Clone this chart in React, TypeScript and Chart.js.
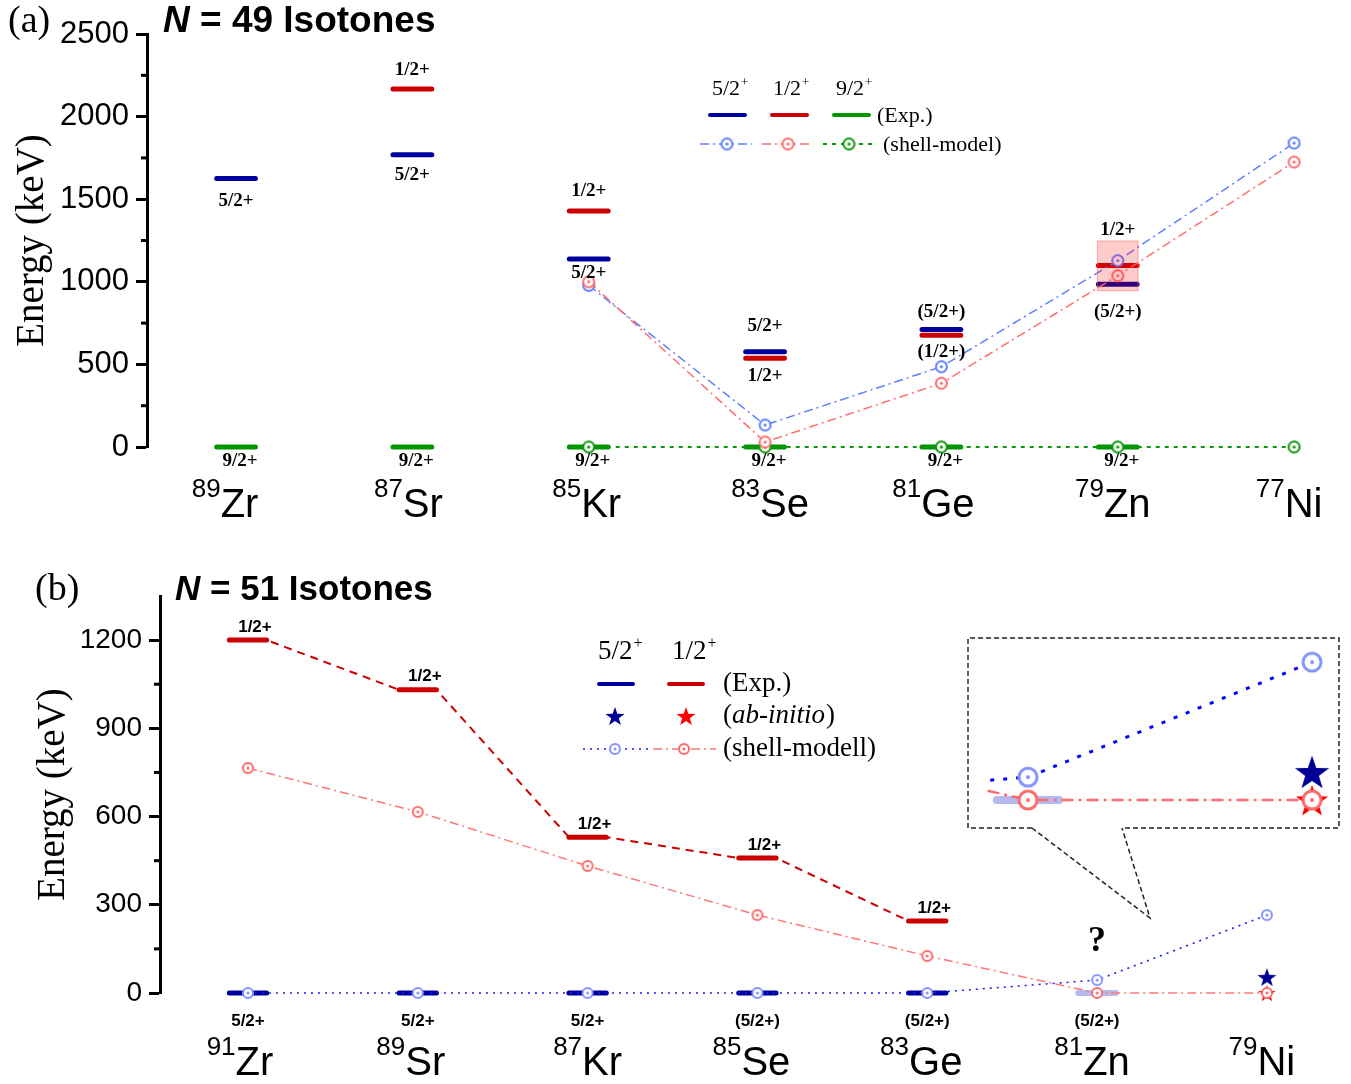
import { useEffect, useRef } from 'react';
import { Chart, registerables } from 'chart.js';

Chart.register(...registerables);

const SANS = '"Liberation Sans", Arial, Helvetica, sans-serif';
const SERIF = '"Liberation Serif", "Times New Roman", Times, serif';

// ---------- (a) N = 49 isotones ----------
const n49Mass = ['89', '87', '85', '83', '81', '79', '77'];
const n49Symbol = ['Zr', 'Sr', 'Kr', 'Se', 'Ge', 'Zn', 'Ni'];
const n49Exp52 = [1626, 1769, 1138, 577, 712, 985, null];
const n49Exp12 = [null, 2167, 1429, 537, 676, 1098, null];
const n49Exp92 = [0, 0, 0, 0, 0, 0, null];
const n49Shell52 = [null, null, 978, 133, 486, 1128, 1840];
const n49Shell12 = [null, null, 1000, 30, 386, 1037, 1725];
const n49Shell92 = [null, null, 0, 0, 0, 0, 0];
const n49Label52 = ['5/2+', '5/2+', '5/2+', '5/2+', '(5/2+)', '(5/2+)', null];
const n49Label12 = [null, '1/2+', '1/2+', '1/2+', '(1/2+)', '1/2+', null];
const n49Label92 = ['9/2+', '9/2+', '9/2+', '9/2+', '9/2+', '9/2+', null];
const n49Ticks = { min: 0, max: 2500, step: 500 };
const n49MinorTicks = [250, 750, 1250, 1750, 2250];
// highlighted energy window around the 79Zn levels
const n49WindowIsotope = 5;
const n49WindowRange = [946, 1247];

// ---------- (b) N = 51 isotones ----------
const n51Mass = ['91', '89', '87', '85', '83', '81', '79'];
const n51Symbol = ['Zr', 'Sr', 'Kr', 'Se', 'Ge', 'Zn', 'Ni'];
const n51Exp12 = [1200, 1031, 530, 459, 245, null, null];
const n51Exp52 = [0, 0, 0, 0, 0, null, null];
const n51Exp52Tentative = [null, null, null, null, null, 0, null];
const n51Shell52 = [0, 0, 0, 0, 0, 44, 265];
const n51Shell12 = [765, 616, 432, 265, 126, 0, 0];
const n51AbInitio52 = [null, null, null, null, null, null, 54];
const n51AbInitio12 = [null, null, null, null, null, null, 0];
const n51Label12 = ['1/2+', '1/2+', '1/2+', '1/2+', '1/2+', null, null];
const n51GroundLabel = ['5/2+', '5/2+', '5/2+', '(5/2+)', '(5/2+)', '(5/2+)', null];
const n51Ticks = { min: 0, max: 1350, step: 300 };
const n51MinorTicks = [150, 450, 750, 1050];
const n51UnknownAt = { index: 5, energy: 173 };

// ---------- styling ----------
const BLUE = '#00009c';
const RED = '#cc0000';
const GREEN = '#009600';
const LEVEL_HALF = 0.11;
const DASH_DOT = [9, 4, 2, 4];

const n49LabelDy52 = [23, 20, 14, -26, -17, 28, 0];
const n49LabelDy12 = [0, -19, -20, 18, 17, -36, 0];
const n49NameDx = [-11, -4, -2, 5, -8, -5, -5];
const n51NameDx = [-8, -7, 0, -6, -6, -5, -5];

function levelPoints(values: (number | null)[]) {
  const pts: any[] = [];
  values.forEach((v, i) => {
    if (v === null) return;
    pts.push({ x: i - LEVEL_HALF, y: v }, { x: i + LEVEL_HALF, y: v }, { x: i + LEVEL_HALF, y: null });
  });
  return pts;
}

function trendPoints(values: (number | null)[]) {
  const pts: any[] = [];
  values.forEach((v, i) => {
    if (v === null) return;
    pts.push({ x: i - LEVEL_HALF, y: v }, { x: i + LEVEL_HALF, y: v });
  });
  return pts;
}

function seriesPoints(values: (number | null)[]) {
  return values.flatMap((v, i) => (v === null ? [] : [{ x: i, y: v }]));
}

function makeRing(color: string, r: number, lw: number, dot: number) {
  const size = Math.ceil(2 * (r + lw)) + 2;
  const c = document.createElement('canvas');
  c.width = size;
  c.height = size;
  const g = c.getContext('2d')!;
  g.fillStyle = '#fff';
  g.beginPath();
  g.arc(size / 2, size / 2, r, 0, Math.PI * 2);
  g.fill();
  g.strokeStyle = color;
  g.lineWidth = lw;
  g.stroke();
  g.fillStyle = color;
  g.beginPath();
  g.arc(size / 2, size / 2, dot, 0, Math.PI * 2);
  g.fill();
  return c;
}

function makeStar(color: string, R: number) {
  const size = Math.ceil(2 * R) + 2;
  const c = document.createElement('canvas');
  c.width = size;
  c.height = size;
  const g = c.getContext('2d')!;
  const cx = size / 2;
  const cy = size / 2 + R * 0.1;
  const r = R * 0.4;
  g.fillStyle = color;
  g.beginPath();
  for (let k = 0; k < 10; k++) {
    const a = -Math.PI / 2 + (k * Math.PI) / 5;
    const rr = k % 2 === 0 ? R : r;
    const px = cx + rr * Math.cos(a);
    const py = cy + rr * Math.sin(a);
    if (k === 0) g.moveTo(px, py);
    else g.lineTo(px, py);
  }
  g.closePath();
  g.fill();
  return c;
}

function levelSet(values: (number | null)[], color: string, width: number) {
  return {
    data: levelPoints(values),
    showLine: true,
    borderColor: color,
    borderWidth: width,
    borderCapStyle: 'round',
    pointRadius: 0,
    pointHoverRadius: 0,
    clip: false,
  };
}

function shellSet(values: (number | null)[], color: string, marker: any, width: number, dash: number[], radius: number, clip: any = false) {
  return {
    data: seriesPoints(values),
    showLine: true,
    borderColor: color,
    borderWidth: width,
    borderDash: dash,
    pointStyle: marker,
    pointRadius: radius,
    pointHoverRadius: radius,
    clip,
  };
}

function starSet(values: (number | null)[], marker: any, radius: number, clip: any = false) {
  return {
    data: seriesPoints(values),
    showLine: false,
    pointStyle: marker,
    pointRadius: radius,
    pointHoverRadius: radius,
    clip,
  };
}

function segment(ctx: CanvasRenderingContext2D, x0: number, x1: number, y: number, color: string, lw: number, dash: number[], cap: CanvasLineCap = 'butt') {
  ctx.save();
  ctx.strokeStyle = color;
  ctx.lineWidth = lw;
  ctx.setLineDash(dash);
  ctx.lineCap = cap;
  ctx.beginPath();
  ctx.moveTo(x0, y);
  ctx.lineTo(x1, y);
  ctx.stroke();
  ctx.restore();
}

function drawSpin(ctx: CanvasRenderingContext2D, text: string, x: number, baseline: number, size: number) {
  ctx.textAlign = 'left';
  ctx.textBaseline = 'alphabetic';
  ctx.font = `${size}px ${SERIF}`;
  ctx.fillText(text, x, baseline);
  const w = ctx.measureText(text).width;
  ctx.font = `${Math.round(size * 0.6)}px ${SERIF}`;
  ctx.fillText('+', x + w + 1, baseline - size * 0.42);
}

function drawPanelTitle(ctx: CanvasRenderingContext2D, tag: string, tagX: number, n: string, x: number, y: number, tagSize: number, size: number) {
  ctx.textAlign = 'left';
  ctx.textBaseline = 'middle';
  ctx.fillStyle = '#000';
  ctx.font = `${tagSize}px ${SERIF}`;
  ctx.fillText(tag, tagX, y);
  ctx.font = `italic bold ${size}px ${SANS}`;
  ctx.fillText('N', x, y);
  const w = ctx.measureText('N').width;
  ctx.font = `bold ${size}px ${SANS}`;
  ctx.fillText(` = ${n} Isotones`, x + w, y);
}

function drawIsotope(ctx: CanvasRenderingContext2D, cx: number, baseline: number, mass: string, symbol: string) {
  const symSize = 40;
  const supSize = 26;
  ctx.textBaseline = 'alphabetic';
  ctx.textAlign = 'left';
  ctx.font = `${supSize}px ${SANS}`;
  const wSup = ctx.measureText(mass).width;
  ctx.font = `${symSize}px ${SANS}`;
  const wSym = ctx.measureText(symbol).width;
  const x0 = cx - (wSup + wSym) / 2;
  ctx.font = `${supSize}px ${SANS}`;
  ctx.fillText(mass, x0, baseline - 20);
  ctx.font = `${symSize}px ${SANS}`;
  ctx.fillText(symbol, x0 + wSup, baseline);
}

function drawMinorTicks(ctx: CanvasRenderingContext2D, scale: any, left: number, values: number[]) {
  ctx.save();
  ctx.strokeStyle = '#000';
  ctx.lineWidth = 3;
  values.forEach((v) => {
    const py = scale.getPixelForValue(v);
    ctx.beginPath();
    ctx.moveTo(left - 6, py);
    ctx.lineTo(left, py);
    ctx.stroke();
  });
  ctx.restore();
}

function yAxis(ticks: { min: number; max: number; step: number }, width: number, tickSize: number, titlePad: number) {
  return {
    min: ticks.min,
    max: ticks.max,
    afterFit: (s: any) => {
      s.width = width;
    },
    border: { display: true, color: '#000', width: 3 },
    grid: { drawOnChartArea: false, drawTicks: true, tickLength: 11, tickWidth: 3, tickColor: '#000' },
    ticks: {
      stepSize: ticks.step,
      includeBounds: false,
      color: '#000',
      padding: 7,
      font: { family: SANS, size: tickSize },
      callback: (v: any) => String(v),
    },
    title: {
      display: true,
      text: 'Energy (keV)',
      color: '#000',
      font: { family: SERIF, size: 39 },
      padding: { top: titlePad, bottom: 0 },
    },
  };
}

function baseOptions(padding: any) {
  return {
    animation: false,
    responsive: false,
    maintainAspectRatio: false,
    events: [],
    layout: { padding, autoPadding: false },
    plugins: { legend: { display: false }, tooltip: { enabled: false } },
  };
}

function buildTop(canvas: HTMLCanvasElement) {
  const ringB = makeRing('#5f7fff', 5.5, 2, 1.6);
  const ringR = makeRing('#ff6d6d', 5.5, 2, 1.6);
  const ringG = makeRing('#0a960a', 5.5, 2, 1.6);

  const decor = {
    id: 'n49Decor',
    afterDatasetsDraw(chart: any) {
      const { ctx, scales } = chart;
      const { x, y } = scales;
      const x0 = x.getPixelForValue(n49WindowIsotope - LEVEL_HALF - 0.005);
      const x1 = x.getPixelForValue(n49WindowIsotope + LEVEL_HALF + 0.005);
      const y0 = y.getPixelForValue(n49WindowRange[1]);
      const y1 = y.getPixelForValue(n49WindowRange[0]);
      ctx.save();
      ctx.fillStyle = 'rgba(255,0,0,0.2)';
      ctx.fillRect(x0, y0, x1 - x0, y1 - y0);
      ctx.strokeStyle = 'rgba(255,90,90,0.5)';
      ctx.lineWidth = 1;
      ctx.strokeRect(x0, y0, x1 - x0, y1 - y0);
      ctx.restore();
    },
    afterDraw(chart: any) {
      const { ctx, chartArea, scales } = chart;
      const { x, y } = scales;
      ctx.save();
      ctx.fillStyle = '#000';
      drawMinorTicks(ctx, y, chartArea.left, n49MinorTicks);
      drawPanelTitle(ctx, '(a)', 8, '49', 163, 22, 38, 37);

      // level labels
      ctx.font = `bold 19px ${SERIF}`;
      ctx.textAlign = 'center';
      ctx.textBaseline = 'middle';
      ctx.fillStyle = '#000';
      n49Label52.forEach((t, i) => {
        const v = n49Exp52[i];
        if (!t || v === null) return;
        ctx.fillText(t, x.getPixelForValue(i), y.getPixelForValue(v) + n49LabelDy52[i]);
      });
      n49Label12.forEach((t, i) => {
        const v = n49Exp12[i];
        if (!t || v === null) return;
        ctx.fillText(t, x.getPixelForValue(i), y.getPixelForValue(v) + n49LabelDy12[i]);
      });
      n49Label92.forEach((t, i) => {
        const v = n49Exp92[i];
        if (!t || v === null) return;
        ctx.fillText(t, x.getPixelForValue(i) + 4, y.getPixelForValue(v) + 14);
      });

      // isotope names
      ctx.fillStyle = '#000';
      n49Symbol.forEach((s, i) => drawIsotope(ctx, x.getPixelForValue(i) + n49NameDx[i], 517, n49Mass[i], s));

      // legend
      drawSpin(ctx, '5/2', 712, 95, 22);
      drawSpin(ctx, '1/2', 773, 95, 22);
      drawSpin(ctx, '9/2', 836, 95, 22);
      segment(ctx, 710, 745, 115, BLUE, 4, [], 'round');
      segment(ctx, 772, 807, 115, RED, 4, [], 'round');
      segment(ctx, 834, 869, 115, GREEN, 4, [], 'round');
      segment(ctx, 700, 752, 144, '#5f7fff', 1.5, DASH_DOT);
      segment(ctx, 762, 812, 144, '#ff6d6d', 1.5, DASH_DOT);
      segment(ctx, 823, 872, 144, '#0a960a', 2, [4, 5]);
      ctx.drawImage(ringB, 727 - ringB.width / 2, 144 - ringB.height / 2);
      ctx.drawImage(ringR, 788 - ringR.width / 2, 144 - ringR.height / 2);
      ctx.drawImage(ringG, 849 - ringG.width / 2, 144 - ringG.height / 2);
      ctx.fillStyle = '#000';
      ctx.font = `22px ${SERIF}`;
      ctx.textAlign = 'left';
      ctx.textBaseline = 'middle';
      ctx.fillText('(Exp.)', 877, 116);
      ctx.fillText('(shell-model)', 883, 145);
      ctx.restore();
    },
  };

  return new Chart(canvas, {
    type: 'scatter',
    data: {
      datasets: [
        shellSet(n49Shell12, '#ff6d6d', ringR, 1.5, DASH_DOT, 7),
        shellSet(n49Shell52, '#5f7fff', ringB, 1.5, DASH_DOT, 7),
        shellSet(n49Shell92, '#0a960a', ringG, 2, [4, 5], 7),
        levelSet(n49Exp12, RED, 5),
        levelSet(n49Exp52, BLUE, 5),
        levelSet(n49Exp92, GREEN, 5),
      ] as any,
    },
    options: {
      ...baseOptions({ left: 0, right: 4, top: 34, bottom: 93 }),
      scales: {
        x: { type: 'linear', min: -0.505, max: 6.3, display: false },
        y: yAxis(n49Ticks, 147, 31, 9) as any,
      },
    } as any,
    plugins: [decor],
  });
}

function buildBottom(canvas: HTMLCanvasElement) {
  const ringB = makeRing('#8494ff', 5, 2, 1.5);
  const ringR = makeRing('#ff6a6a', 5, 2, 1.5);
  const starB = makeStar('#000099', 10);
  const starR = makeStar('#ff0000', 9);
  const legendStarB = makeStar('#000099', 10);
  const legendStarR = makeStar('#ff0000', 10);

  const decor = {
    id: 'n51Decor',
    afterDraw(chart: any) {
      const { ctx, chartArea, scales } = chart;
      const { x, y } = scales;
      ctx.save();
      ctx.fillStyle = '#000';
      drawMinorTicks(ctx, y, chartArea.left, n51MinorTicks);
      drawPanelTitle(ctx, '(b)', 35, '51', 175, 50, 38, 35);

      // 1/2+ level labels
      ctx.font = `bold 17px ${SANS}`;
      ctx.textAlign = 'center';
      ctx.textBaseline = 'middle';
      n51Label12.forEach((t, i) => {
        const v = n51Exp12[i];
        if (!t || v === null) return;
        ctx.fillText(t, x.getPixelForValue(i) + 7, y.getPixelForValue(v) - 13);
      });
      // ground-state spins
      n51GroundLabel.forEach((t, i) => {
        if (!t) return;
        ctx.fillText(t, x.getPixelForValue(i), 481);
      });
      // unassigned 1/2+ level in 81Zn
      ctx.font = `bold 36px ${SERIF}`;
      ctx.fillText('?', x.getPixelForValue(n51UnknownAt.index), y.getPixelForValue(n51UnknownAt.energy));

      n51Symbol.forEach((s, i) => drawIsotope(ctx, x.getPixelForValue(i) + n51NameDx[i], 535, n51Mass[i], s));

      // legend
      ctx.fillStyle = '#000';
      drawSpin(ctx, '5/2', 598, 119, 27);
      drawSpin(ctx, '1/2', 672, 119, 27);
      segment(ctx, 599, 633, 144, BLUE, 4, [], 'round');
      segment(ctx, 669, 703, 144, RED, 4, [], 'round');
      ctx.drawImage(legendStarB, 615 - legendStarB.width / 2, 176 - legendStarB.height / 2);
      ctx.drawImage(legendStarR, 686 - legendStarR.width / 2, 176 - legendStarR.height / 2);
      segment(ctx, 583, 648, 209, '#1a1aff', 1.5, [2, 5]);
      segment(ctx, 653, 716, 209, '#ff7777', 1.5, DASH_DOT);
      ctx.drawImage(ringB, 615 - ringB.width / 2, 209 - ringB.height / 2);
      ctx.drawImage(ringR, 684 - ringR.width / 2, 209 - ringR.height / 2);
      ctx.fillStyle = '#000';
      ctx.textAlign = 'left';
      ctx.textBaseline = 'middle';
      ctx.font = `27px ${SERIF}`;
      ctx.fillText('(Exp.)', 723, 144);
      ctx.fillText('(', 723, 176);
      let w = ctx.measureText('(').width;
      ctx.font = `italic 27px ${SERIF}`;
      ctx.fillText('ab-initio', 723 + w, 176);
      w += ctx.measureText('ab-initio').width;
      ctx.font = `27px ${SERIF}`;
      ctx.fillText(')', 723 + w + 1, 176);
      ctx.fillText('(shell-modell)', 723, 209);

      // magnifier frame and callout
      ctx.strokeStyle = '#222';
      ctx.lineWidth = 1.5;
      ctx.setLineDash([5, 3]);
      ctx.beginPath();
      ctx.moveTo(1032, 288);
      ctx.lineTo(968, 288);
      ctx.lineTo(968, 98);
      ctx.lineTo(1339, 98);
      ctx.lineTo(1339, 288);
      ctx.lineTo(1122, 288);
      ctx.moveTo(1032, 288);
      ctx.lineTo(1150, 378);
      ctx.lineTo(1122, 288);
      ctx.stroke();
      ctx.restore();
    },
  };

  return new Chart(canvas, {
    type: 'scatter',
    data: {
      datasets: [
        shellSet(n51Shell12, '#ff7777', ringR, 1.5, DASH_DOT, 6),
        shellSet(n51Shell52, '#1a1aff', ringB, 1.5, [2, 5], 6),
        starSet(n51AbInitio12, starR, 9),
        starSet(n51AbInitio52, starB, 10),
        levelSet(n51Exp12, RED, 5),
        { ...levelSet(n51Exp12, RED, 2), data: trendPoints(n51Exp12), borderDash: [8, 6], borderCapStyle: 'butt' },
        levelSet(n51Exp52, BLUE, 5),
        levelSet(n51Exp52Tentative, 'rgba(70,80,210,0.4)', 6),
      ] as any,
    },
    options: {
      ...baseOptions({ left: 0, right: 6, top: 56, bottom: 91 }),
      scales: {
        x: { type: 'linear', min: -0.518, max: 6.46, display: false },
        y: yAxis(n51Ticks, 160, 28, 30) as any,
      },
    } as any,
    plugins: [decor],
  });
}

// magnified view of the 81Zn - 79Ni region
function buildInset(canvas: HTMLCanvasElement) {
  const ringB = makeRing('#8494ff', 9, 3, 2);
  const ringR = makeRing('#ff6a6a', 9, 3, 2);
  const starB = makeStar('#000099', 18);
  const starR = makeStar('#ff0000', 17);
  return new Chart(canvas, {
    type: 'scatter',
    data: {
      datasets: [
        shellSet(n51Shell12, '#ff6a6a', ringR, 2.5, [12, 5, 3, 5], 11, 0),
        shellSet(n51Shell52, '#0000ff', ringB, 3, [4, 9], 11, 0),
        starSet(n51AbInitio12, starR, 17, 0),
        starSet(n51AbInitio52, starB, 18, 0),
        { ...levelSet(n51Exp52Tentative, 'rgba(70,80,210,0.4)', 8), clip: 0 },
      ] as any,
    },
    options: {
      ...baseOptions(0),
      scales: {
        x: { type: 'linear', min: 4.852, max: 6.095, display: false },
        y: { min: -53.8, max: 311.5, display: false },
      },
    } as any,
  });
}

export default function App() {
  const topRef = useRef<HTMLCanvasElement>(null);
  const bottomRef = useRef<HTMLCanvasElement>(null);
  const insetRef = useRef<HTMLCanvasElement>(null);

  useEffect(() => {
    const charts = [
      buildTop(topRef.current!),
      buildBottom(bottomRef.current!),
      buildInset(insetRef.current!),
    ];
    return () => charts.forEach((c) => c.destroy());
  }, []);

  return (
    <div style={{ position: 'absolute', left: 0, top: 0, width: 1351, height: 1084, background: '#fff', overflow: 'hidden' }}>
      <canvas ref={topRef} width={1351} height={540} style={{ position: 'absolute', left: 0, top: 0 }} />
      <canvas ref={bottomRef} width={1351} height={544} style={{ position: 'absolute', left: 0, top: 540 }} />
      <canvas ref={insetRef} width={353} height={190} style={{ position: 'absolute', left: 986, top: 638 }} />
    </div>
  );
}
